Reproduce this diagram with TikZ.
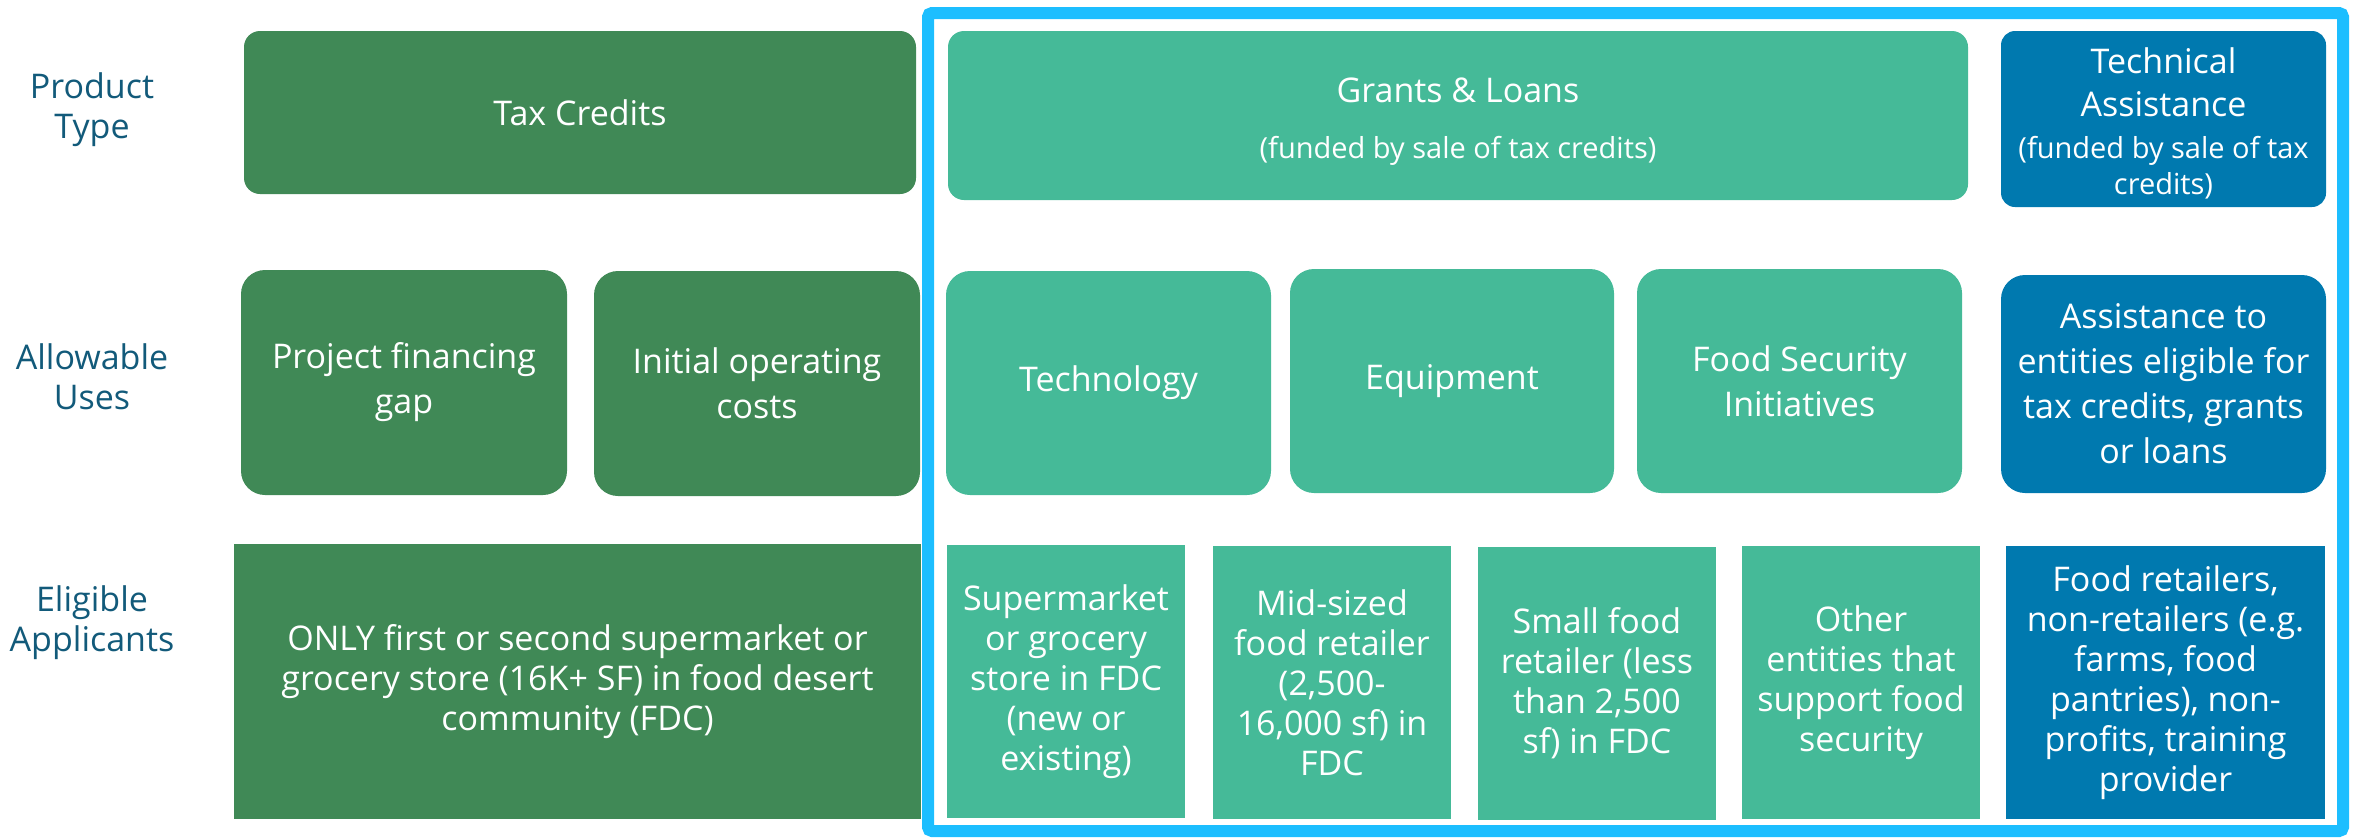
\documentclass[tikz,border=0pt]{standalone}
\usepackage{fontspec}
\setmainfont{Open Sans}
\definecolor{taxgreen}{RGB}{64,137,86}
\definecolor{grantteal}{RGB}{69,186,152}
\definecolor{assistblue}{RGB}{0,121,175}
\definecolor{framecyan}{RGB}{28,190,255}
\definecolor{rowlabel}{RGB}{18,90,122}
\newcommand{\smalltext}{\fontsize{14.5}{18}\selectfont}
\begin{document}
\begin{tikzpicture}[x=0.5pt,y=-0.5pt,
	cell/.style={text=white,align=center,font=\fontsize{17}{20}\selectfont},
	usecell/.style={cell,font=\fontsize{17}{22.5}\selectfont},
	rowname/.style={text=rowlabel,align=center,font=\fontsize{17}{20}\selectfont}]
	    \useasboundingbox (0,0) rectangle (2354,837);
	    \node[rowname](product) at (92,110){Product\\Type};
	    \node[rowname](uses) at (92,377){Allowable\\Uses};
	    \node[rowname](applicants) at (92,623){Eligible\\Applicants};
	    \fill[taxgreen,rounded corners=8pt](244,31) rectangle node[cell](tax){Tax Credits} (916,194);
	    \fill[grantteal,rounded corners=8pt](948,31) rectangle node[cell,yshift=-3pt](grants){Grants \& Loans\\[8pt]\smalltext (funded by sale of tax credits)} (1968,200);
	    \fill[assistblue,rounded corners=7pt](2001,31) rectangle node[cell,font=\fontsize{17}{18}\selectfont,yshift=-2pt](techassist){Technical\\[3.5pt]Assistance\\[3pt]\smalltext (funded by sale of tax\\\smalltext credits)} (2326,207);
	    \fill[taxgreen,rounded corners=12pt](241,270) rectangle node[usecell](gap){Project financing\\gap} (567,495);
	    \fill[taxgreen,rounded corners=12pt](594,271) rectangle node[usecell](opcost){Initial operating\\costs} (920,496);
	    \fill[grantteal,rounded corners=12pt](946,271) rectangle node[usecell](techno){Technology} (1271,495);
	    \fill[grantteal,rounded corners=12pt](1290,269) rectangle node[usecell](equip){Equipment} (1614,493);
	    \fill[grantteal,rounded corners=12pt](1637,269) rectangle node[usecell](foodsec){Food Security\\Initiatives} (1962,493);
	    \fill[assistblue,rounded corners=12pt](2001,275) rectangle node[usecell](assist){Assistance to\\entities eligible for\\tax credits, grants\\or loans} (2326,493);
	    \fill[taxgreen](234,544) rectangle node[cell](only){ONLY first or second supermarket or\\grocery store (16K+ SF) in food desert\\community (FDC)} (921,819);
	    \fill[grantteal](947,545) rectangle node[cell](superm){Supermarket\\or grocery\\store in FDC\\(new or\\existing)} (1185,818);
	    \fill[grantteal](1213,546) rectangle node[cell](midsize){Mid-sized\\food retailer\\(2,500-\\16,000 sf) in\\FDC} (1451,819);
	    \fill[grantteal](1478,547) rectangle node[cell](small){Small food\\retailer (less\\than 2,500\\sf) in FDC} (1716,820);
	    \fill[grantteal](1742,546) rectangle node[cell](other){Other\\entities that\\support food\\security} (1980,819);
	    \fill[assistblue](2006,546) rectangle node[cell](retail){Food retailers,\\non-retailers (e.g.\\farms, food\\pantries), non-\\profits, training\\provider} (2325,819);
	    \draw[framecyan,line width=6pt,rounded corners=2pt](928,13) rectangle (2343,831);
	\end{tikzpicture}
\end{document}
